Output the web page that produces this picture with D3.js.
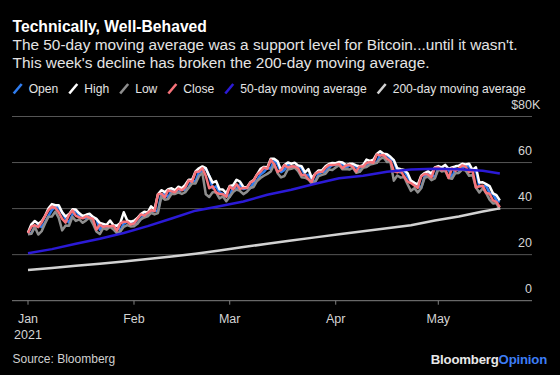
<!DOCTYPE html>
<html lang="en">
<head>
<meta charset="UTF-8">
<title>Technically, Well-Behaved</title>
<script src="https://d3js.org/d3.v7.min.js"></script>
<style>
  html, body { margin: 0; padding: 0; background: #000; }
  svg { display: block; font-family: "Liberation Sans", Arial, sans-serif; }
  .grid { stroke-width: 1; }
  .ytick { fill: #d4d4d4; font-size: 12.5px; }
  .xtick { fill: #d4d4d4; font-size: 12.5px; }
  .price { fill: none; stroke-width: 2.5; stroke-linejoin: round; }
</style>
</head>
<body>
<svg width="560" height="375"></svg>
<script>
// daily bitcoin prices, $K, from Jan 1 2021 to May 19 2021
const firstDay = new Date(Date.UTC(2021, 0, 1));

const open = [
  28.99,29.38,32.13,32.81,31.98,34.01,36.83,39.38,40.79,40.25,38.35,35.52,33.92,37.33,39.16,36.82,36.16,35.79,36.64,36.05,35.55,30.82,32.99,32.05,32.29,32.36,32.56,30.44,33.47,34.30,34.27,
  33.11,33.53,35.51,37.48,36.93,38.14,39.25,38.89,46.18,46.47,44.90,47.88,47.49,47.11,48.70,47.94,49.21,52.14,51.68,55.89,56.11,57.53,54.20,48.84,49.71,47.18,46.34,46.19,
  45.16,49.61,48.42,50.52,48.53,48.90,48.92,51.17,52.27,54.82,55.96,57.76,57.28,61.22,59.27,55.84,56.83,58.89,57.85,58.33,58.31,57.52,54.51,54.71,52.73,51.68,55.14,55.97,55.95,57.75,58.93,
  58.93,59.10,59.40,57.60,58.76,59.17,58.19,56.10,58.25,58.25,59.85,60.18,59.89,63.52,63.08,63.26,61.53,60.70,56.19,55.68,56.47,53.86,51.74,51.14,50.05,49.08,54.03,55.04,54.86,53.57,
  57.71,57.83,56.62,57.21,53.25,57.44,56.41,57.35,58.88,58.25,55.85,56.71,49.74,49.68,49.86,46.72,46.42,43.57,42.94
];
const high = [
  29.60,33.16,34.61,33.44,34.44,36.88,40.18,41.95,41.44,41.42,38.35,36.57,37.60,39.67,39.58,37.95,36.79,37.30,37.76,36.42,35.55,33.81,33.36,32.94,34.80,32.79,32.56,33.76,38.41,34.93,34.29,
  34.72,35.90,37.66,38.59,38.31,40.96,39.62,46.20,48.00,47.15,48.46,48.80,48.05,49.49,48.87,50.34,52.53,52.54,56.11,57.51,58.33,57.56,54.20,51.29,51.95,48.37,48.25,46.72,
  49.78,50.13,52.54,51.74,49.43,49.15,51.38,52.36,54.90,57.26,58.11,57.91,61.68,61.60,60.54,56.83,58.98,60.03,59.47,59.88,58.77,58.40,55.74,57.17,53.32,55.14,56.57,56.60,58.34,59.37,59.80,
  59.75,60.27,59.99,58.91,59.45,59.47,58.73,58.36,58.87,61.28,60.68,61.20,63.74,64.86,63.82,63.59,62.51,61.06,57.52,57.07,56.76,55.41,52.13,51.17,50.51,54.29,55.42,56.23,55.20,57.91,
  58.45,57.90,58.97,57.24,57.91,58.36,58.64,59.46,59.21,59.52,56.87,57.94,51.33,51.44,50.64,49.77,46.62,45.82,43.55
];
const low = [
  28.80,29.09,32.05,28.72,30.22,33.51,36.49,36.57,38.72,35.98,30.55,32.66,32.58,36.39,34.66,35.35,33.85,34.88,36.07,33.41,30.07,28.95,31.49,30.94,32.09,30.95,29.37,30.02,32.06,32.83,32.27,
  32.30,33.42,35.36,36.16,36.62,38.14,37.45,38.08,45.17,43.88,44.19,46.46,46.39,47.03,46.35,47.16,49.07,50.90,50.94,54.08,55.49,46.22,45.07,47.08,47.09,44.45,45.27,43.24,
  45.12,47.23,48.27,47.66,46.30,47.25,48.92,49.39,51.99,53.29,54.27,55.08,56.08,59.30,55.39,53.56,54.15,57.02,57.26,57.82,56.26,53.65,53.44,52.71,50.76,51.58,54.07,54.66,55.14,57.02,56.77,
  57.85,58.87,57.04,57.17,56.96,57.77,55.60,55.96,57.68,58.04,59.08,59.51,59.87,61.55,62.21,60.22,60.26,52.13,54.37,53.45,53.70,50.58,47.71,48.87,47.04,48.85,53.32,53.89,52.37,53.13,
  57.07,56.14,56.48,53.31,52.97,55.38,55.47,56.98,56.48,54.26,54.61,49.15,46.98,48.87,46.66,43.87,42.21,42.38,39.50
];
const close = [
  29.37,32.13,32.78,31.97,33.99,36.82,39.37,40.80,40.25,38.36,35.57,33.92,37.32,39.19,36.83,36.18,35.79,36.63,36.07,35.55,30.83,33.01,32.07,32.29,32.37,32.57,30.43,33.47,34.32,34.27,33.11,
  33.54,35.51,37.47,36.93,38.14,39.27,38.90,46.20,46.48,44.92,47.91,47.50,47.11,48.72,47.94,49.20,52.15,51.68,55.89,56.10,57.54,54.21,48.82,49.71,47.09,46.34,46.19,45.14,
  49.63,48.38,50.54,48.56,48.93,48.91,51.21,52.25,54.82,56.01,57.81,57.33,61.24,59.30,55.91,56.80,58.87,57.86,58.35,58.31,57.52,54.53,54.74,52.77,51.70,55.14,55.97,55.95,57.75,58.92,58.92,
  59.10,59.38,57.60,58.76,59.06,58.19,56.05,58.32,58.25,59.79,60.20,59.89,63.50,63.11,63.31,61.57,60.68,56.22,55.72,56.47,53.91,51.76,51.09,50.05,49.00,54.02,55.03,54.82,53.56,57.75,
  57.83,56.63,57.20,53.33,57.42,56.40,57.36,58.80,58.23,55.86,56.70,49.15,49.72,49.88,46.76,46.46,43.54,42.91,40.50
];

const maDates = ["2021-01-01","2021-01-08","2021-01-15","2021-01-22","2021-01-29","2021-02-05","2021-02-12","2021-02-19","2021-02-26",
  "2021-03-05","2021-03-12","2021-03-19","2021-03-26","2021-04-02","2021-04-09","2021-04-16","2021-04-23","2021-04-30",
  "2021-05-07","2021-05-14","2021-05-19"];
const ma50  = [20.6,22.4,24.7,26.9,29.4,32.4,35.7,39.1,41.0,43.1,46.0,48.2,50.8,53.2,54.3,56.0,57.0,57.3,57.1,56.4,55.2];
const ma200 = [13.3,14.2,15.2,16.1,17.0,18.1,19.2,20.4,21.8,23.3,24.7,26.1,27.5,28.9,30.2,31.5,32.8,34.8,36.6,38.7,40.1];

const yTicks = [0, 20, 40, 60, 80];
const monthNames = ["Jan", "Feb", "Mar", "Apr", "May"];

const seriesNames = ["Open", "High", "Low", "Close", "50-day moving average", "200-day moving average"];
const seriesColors = ["#2f7df0", "#ffffff", "#8e8e8e", "#f7737a", "#2b1ad6", "#d2d2d2"];

const svg = d3.select("svg");
const left = 12, right = 532;

const days = open.map((d, i) => d3.utcDay.offset(firstDay, i));
const maDays = maDates.map(s => d3.utcParse("%Y-%m-%d")(s));

const x = d3.scaleUtc()
  .domain([firstDay, new Date(Date.UTC(2021, 5, 1))])
  .range([28, 544.3]);
const y = d3.scaleLinear().domain([0, 80]).range([300.7, 116.5]);

// titles
svg.append("text").attr("x", 12.5).attr("y", 31.7)
  .attr("fill", "#fff").attr("font-weight", "bold").attr("font-size", 15.7)
  .text("Technically, Well-Behaved");
svg.append("text").attr("x", 12.5).attr("y", 50)
  .attr("fill", "#e4e4e4").attr("font-size", 15.4)
  .text("The 50-day moving average was a support level for Bitcoin...until it wasn't.");
svg.append("text").attr("x", 12.5).attr("y", 67.7)
  .attr("fill", "#e4e4e4").attr("font-size", 15.4)
  .text("This week's decline has broken the 200-day moving average.");

// legend
const legend = svg.append("g");
let lx = 12.7;
seriesNames.forEach((name, i) => {
  legend.append("line")
    .attr("x1", lx + 1).attr("y1", 93.5)
    .attr("x2", lx + 9).attr("y2", 84)
    .attr("stroke", seriesColors[i]).attr("stroke-width", 2.6);
  const t = legend.append("text")
    .attr("x", lx + 16).attr("y", 93.3)
    .attr("fill", "#e4e4e4").attr("font-size", 12.1)
    .text(name);
  lx += 16 + t.node().getComputedTextLength() + 10;
});

// grid
svg.append("g").selectAll("line")
  .data(yTicks)
  .join("line")
  .attr("class", "grid")
  .attr("x1", left).attr("x2", right)
  .attr("y1", d => y(d)).attr("y2", d => y(d))
  .attr("stroke", d => d === 0 ? "#808080" : "#555");

svg.append("g").selectAll("text")
  .data(yTicks)
  .join("text")
  .attr("class", "ytick")
  .attr("x", right)
  .attr("y", d => y(d) - 7.5)
  .attr("text-anchor", "end")
  .text(d => d === 80 ? "$80" : d);
svg.append("text").attr("class", "ytick")
  .attr("x", right).attr("y", y(80) - 7.5)
  .text("K");

// x axis
const months = d3.utcMonth.range(firstDay, new Date(Date.UTC(2021, 5, 1)));
svg.append("g").selectAll("line")
  .data(months)
  .join("line")
  .attr("x1", d => x(d)).attr("x2", d => x(d))
  .attr("y1", y(0)).attr("y2", y(0) + 4)
  .attr("stroke", "#808080");
svg.append("g").selectAll("text")
  .data(months)
  .join("text")
  .attr("class", "xtick")
  .attr("x", d => x(d)).attr("y", 322.7)
  .attr("text-anchor", "middle")
  .text((d, i) => monthNames[i]);
svg.append("text").attr("class", "xtick")
  .attr("x", x(firstDay)).attr("y", 339)
  .attr("text-anchor", "middle")
  .text("2021");

// lines
const line = d3.line().x(d => x(d[0])).y(d => y(d[1]));
const allSeries = [
  d3.zip(days, open),
  d3.zip(days, high),
  d3.zip(days, low),
  d3.zip(days, close),
  d3.zip(maDays, ma50),
  d3.zip(maDays, ma200)
];
svg.append("g").selectAll("path")
  .data(allSeries)
  .join("path")
  .attr("class", "price")
  .attr("stroke", (d, i) => seriesColors[i])
  .attr("d", line);

// footer
svg.append("text").attr("x", 12.5).attr("y", 363.3)
  .attr("fill", "#d0d0d0").attr("font-size", 12)
  .text("Source: Bloomberg");
const logo = svg.append("text").attr("x", 547).attr("y", 364)
  .attr("text-anchor", "end").attr("font-weight", "bold").attr("font-size", 13.2)
  .attr("letter-spacing", -0.2);
logo.append("tspan").attr("fill", "#e8e8e8").text("Bloomberg");
logo.append("tspan").attr("fill", "#3d7df5").text("Opinion");
</script>
</body>
</html>
